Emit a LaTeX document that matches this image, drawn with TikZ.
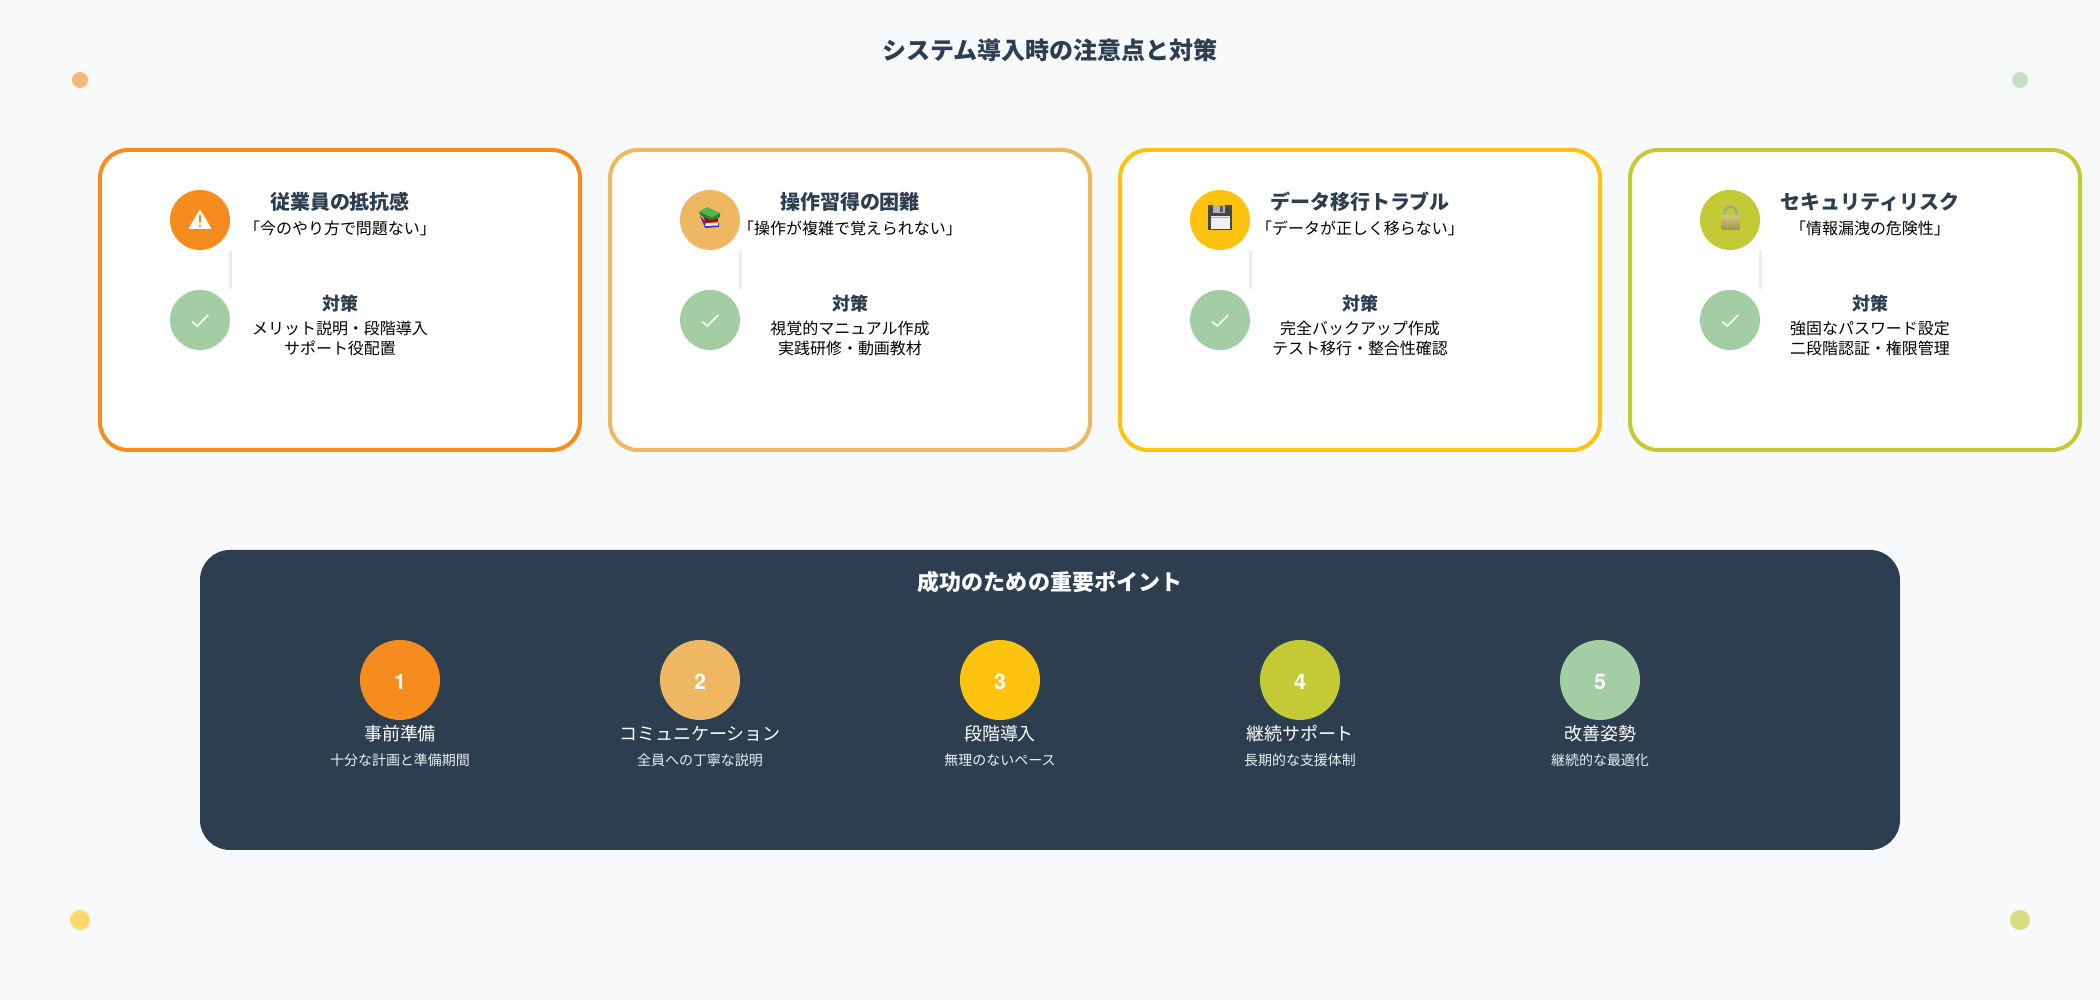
\documentclass[tikz,border=0pt]{standalone}
\usepackage{fontspec}
\setmainfont{Noto Sans CJK JP}
\newfontfamily\digitfont{TeX Gyre Heros}
\definecolor{pagebg}{HTML}{F8F9FA}
\definecolor{navy}{HTML}{2C3E50}
\definecolor{orangeA}{HTML}{F78C1E}
\definecolor{orangeB}{HTML}{F0B762}
\definecolor{yellowA}{HTML}{FDC30E}
\definecolor{limeA}{HTML}{C3CA35}
\definecolor{greenA}{HTML}{A3CDA3}
\definecolor{linkgrey}{HTML}{E9EDF1}
\definecolor{notegrey}{HTML}{ECF0F1}
\definecolor{lockring}{HTML}{8FA3B5}
\definecolor{locktop}{HTML}{CFC27C}
\definecolor{lockbase}{HTML}{A3964F}
\tikzset{
	card/.style={draw=#1, line width=0.04cm, fill=white, rounded corners=0.28cm, minimum height=3cm, outer sep=0pt, inner sep=0pt},
	iconball/.style={circle, fill=#1, minimum size=0.6cm, inner sep=0pt},
	numball/.style={circle, fill=#1, minimum size=0.8cm, inner sep=0pt, text=white, text height=0.195cm, text depth=0pt, font=\fontsize{6.1pt}{6.1pt}\selectfont\digitfont\bfseries},
	dot/.style={circle, fill=#1, fill opacity=0.6, inner sep=0pt},
	link/.style={draw=linkgrey, line width=0.03cm},
	tick/.style={draw=white, line width=0.016cm},
	heading/.style={text=navy, inner sep=0pt, font=\fontsize{5.69pt}{5.69pt}\selectfont\bfseries},
	fix/.style={text=navy, inner sep=0pt, font=\fontsize{5.12pt}{5.12pt}\selectfont\bfseries},
	body/.style={text=black, inner sep=0pt, align=center, font=\fontsize{4.55pt}{5.69pt}\selectfont},
	ptname/.style={text=white, inner sep=0pt, font=\fontsize{5.12pt}{5.12pt}\selectfont},
	ptnote/.style={text=notegrey, inner sep=0pt, font=\fontsize{3.98pt}{3.98pt}\selectfont}
}
\begin{document}
\begin{tikzpicture}
	\fill[pagebg] (0, 0) rectangle (21, 10);
	\node[text=navy, inner sep=0pt, font=\fontsize{6.83pt}{6.83pt}\selectfont\bfseries] (maintitle) at (10.5, 9.5) {システム導入時の注意点と対策};
	\node[dot=orangeA, minimum size=0.16cm] (dotA) at (0.8, 9.2) {};
	\node[dot=greenA, minimum size=0.16cm] (dotB) at (20.2, 9.2) {};
	\node[dot=yellowA, minimum size=0.2cm] (dotC) at (0.8, 0.8) {};
	\node[dot=limeA, minimum size=0.2cm] (dotD) at (20.2, 0.8) {};

	% cards
	\node[card=orangeA, minimum width=4.8cm] (cardA) at (3.4, 7) {};
	\node[card=orangeB, minimum width=4.8cm] (cardB) at (8.5, 7) {};
	\node[card=yellowA, minimum width=4.8cm] (cardC) at (13.6, 7) {};
	\node[card=limeA, minimum width=4.5cm] (cardD) at (18.55, 7) {};

	\node[iconball=orangeA] (warn) at (2, 7.8) {};
	\node[iconball=orangeB] (books) at (7.1, 7.8) {};
	\node[iconball=yellowA] (disk) at (12.2, 7.8) {};
	\node[iconball=limeA] (lock) at (17.3, 7.8) {};
	\node[iconball=greenA] (fixA) at (2, 6.8) {};
	\node[iconball=greenA] (fixB) at (7.1, 6.8) {};
	\node[iconball=greenA] (fixC) at (12.2, 6.8) {};
	\node[iconball=greenA] (fixD) at (17.3, 6.8) {};

	\draw[link] (warn.south -| warn.east)--(fixA.north -| fixA.east);
	\draw[link] (books.south -| books.east)--(fixB.north -| fixB.east);
	\draw[link] (disk.south -| disk.east)--(fixC.north -| fixC.east);
	\draw[link] (lock.south -| lock.east)--(fixD.north -| fixD.east);

	\draw[tick, shift={(fixA.center)}] (-0.077, -0.017)--(-0.027, -0.06)--(0.083, 0.05);
	\draw[tick, shift={(fixB.center)}] (-0.077, -0.017)--(-0.027, -0.06)--(0.083, 0.05);
	\draw[tick, shift={(fixC.center)}] (-0.077, -0.017)--(-0.027, -0.06)--(0.083, 0.05);
	\draw[tick, shift={(fixD.center)}] (-0.077, -0.017)--(-0.027, -0.06)--(0.083, 0.05);

	% warning sign
	\fill[white, rounded corners=0.01cm, shift={(warn.center)}] (0, 0.105)--(0.117, -0.09)--(-0.117, -0.09)--cycle;
	\fill[orangeA, shift={(warn.center)}] (-0.012, 0.05)--(0.012, 0.05)--(0.007, -0.03)--(-0.007, -0.03)--cycle;
	\fill[orangeA, shift={(warn.center)}] (0, -0.06) circle (0.014);

	% books
	\begin{scope}[shift={(books.center)}]
		\fill[black!10!blue!55!gray] (-0.1, 0.04)--(-0.05, -0.08)--(0.09, -0.07)--(0.09, -0.03)--(-0.03, -0.03)--cycle;
		\fill[white!85!gray] (-0.04, -0.03)--(0.08, -0.03)--(0.08, -0.055)--(-0.05, -0.06)--cycle;
		\fill[red!75!black] (-0.08, 0.06)--(-0.04, -0.03)--(0.08, -0.02)--(0.08, 0.03)--(-0.02, 0.03)--cycle;
		\fill[green!45!black!85!white] (-0.107, 0.083)--(-0.027, 0.127)--(0.1, 0.067)--(0.1, 0.03)--(0.017, -0.005)--(-0.1, 0.05)--cycle;
		\fill[green!60!black!70!white] (-0.107, 0.083)--(-0.027, 0.127)--(0.1, 0.067)--(0.017, 0.027)--cycle;
	\end{scope}

	% floppy
	\begin{scope}[shift={(disk.center)}]
		\fill[black!72] (-0.117, 0.15)--(0.117, 0.15)--(0.117, -0.1)--(-0.117, -0.1)--cycle;
		\fill[black!30] (-0.067, 0.15) rectangle (0.05, 0.067);
		\fill[black!65] (0, 0.14) rectangle (0.03, 0.08);
		\fill[black!6] (-0.093, 0.043) rectangle (0.1, -0.093);
		\fill[blue!45!cyan!60!white] (-0.093, 0.03) rectangle (0.1, 0.017);
	\end{scope}

	% lock
	\begin{scope}[shift={(lock.center)}]
		\draw[line width=0.018cm, lockring] (-0.055, 0.02)--(-0.055, 0.073) arc (180:0:0.06)--(0.065, 0.02);
		\shade[top color=locktop, bottom color=lockbase] (-0.085, 0.04) rectangle (0.095, -0.093);
	\end{scope}

	% card texts
	\node[heading] (headA) at (3.4, 7.98) {従業員の抵抗感};
	\node[body] (voiceA) at (3.4, 7.72) {「今のやり方で問題ない」};
	\node[fix] (taskA) at (3.4, 6.96) {対策};
	\node[body] (planA) at (3.4, 6.62) {メリット説明・段階導入\\サポート役配置};

	\node[heading] (headB) at (8.5, 7.98) {操作習得の困難};
	\node[body] (voiceB) at (8.5, 7.72) {「操作が複雑で覚えられない」};
	\node[fix] (taskB) at (8.5, 6.96) {対策};
	\node[body] (planB) at (8.5, 6.62) {視覚的マニュアル作成\\実践研修・動画教材};

	\node[heading] (headC) at (13.6, 7.98) {データ移行トラブル};
	\node[body] (voiceC) at (13.6, 7.72) {「データが正しく移らない」};
	\node[fix] (taskC) at (13.6, 6.96) {対策};
	\node[body] (planC) at (13.6, 6.62) {完全バックアップ作成\\テスト移行・整合性確認};

	\node[heading] (headD) at (18.7, 7.98) {セキュリティリスク};
	\node[body] (voiceD) at (18.7, 7.72) {「情報漏洩の危険性」};
	\node[fix] (taskD) at (18.7, 6.96) {対策};
	\node[body] (planD) at (18.7, 6.62) {強固なパスワード設定\\二段階認証・権限管理};

	% bottom panel
	\node[fill=navy, rounded corners=0.3cm, minimum width=17cm, minimum height=3cm, outer sep=0pt, inner sep=0pt] (panel) at (10.5, 3) {};
	\node[text=white, inner sep=0pt, font=\fontsize{6.26pt}{6.26pt}\selectfont\bfseries] (paneltitle) at (10.5, 4.18) {成功のための重要ポイント};

	\node[numball=orangeA] (ptA) at (4, 3.2) {1};
	\node[ptname] (ptnameA) at (4, 2.66) {事前準備};
	\node[ptnote] (ptnoteA) at (4, 2.4) {十分な計画と準備期間};

	\node[numball=orangeB] (ptB) at (7, 3.2) {2};
	\node[ptname] (ptnameB) at (7, 2.66) {コミュニケーション};
	\node[ptnote] (ptnoteB) at (7, 2.4) {全員への丁寧な説明};

	\node[numball=yellowA] (ptC) at (10, 3.2) {3};
	\node[ptname] (ptnameC) at (10, 2.66) {段階導入};
	\node[ptnote] (ptnoteC) at (10, 2.4) {無理のないペース};

	\node[numball=limeA] (ptD) at (13, 3.2) {4};
	\node[ptname] (ptnameD) at (13, 2.66) {継続サポート};
	\node[ptnote] (ptnoteD) at (13, 2.4) {長期的な支援体制};

	\node[numball=greenA] (ptE) at (16, 3.2) {5};
	\node[ptname] (ptnameE) at (16, 2.66) {改善姿勢};
	\node[ptnote] (ptnoteE) at (16, 2.4) {継続的な最適化};
\end{tikzpicture}
\end{document}
